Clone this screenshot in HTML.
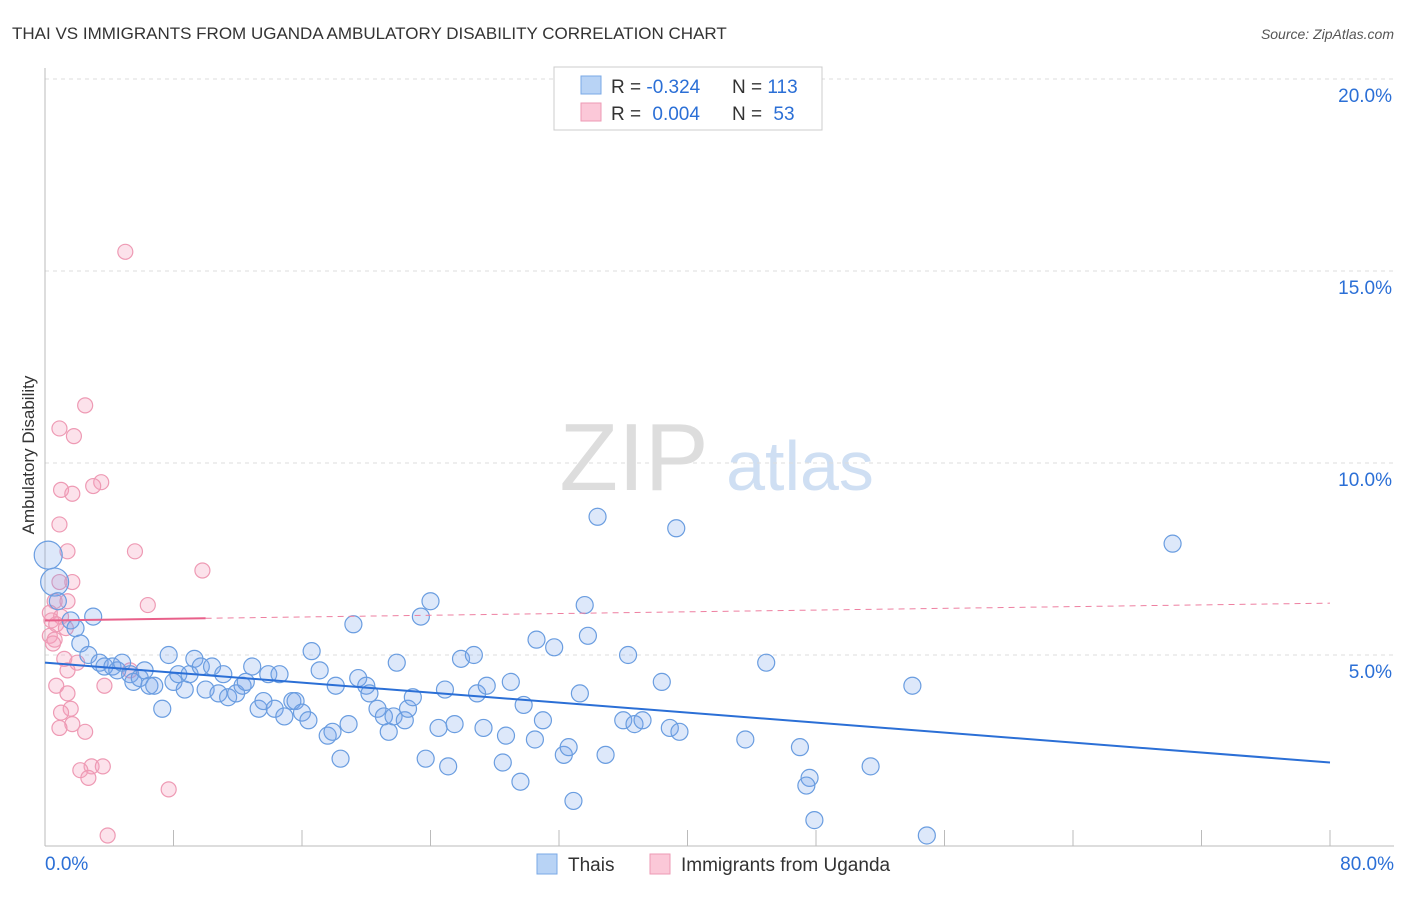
<!DOCTYPE html>
<html><head><meta charset="utf-8"><style>
body{margin:0;background:#fff;font-family:"Liberation Sans",sans-serif;}
svg text{font-family:"Liberation Sans",sans-serif;}
</style></head><body>
<svg id="chart" width="1406" height="892" xmlns="http://www.w3.org/2000/svg">
<text x="12" y="39" font-size="17" fill="#333">THAI VS IMMIGRANTS FROM UGANDA AMBULATORY DISABILITY CORRELATION CHART</text>
<text x="1394" y="39" font-size="14" fill="#555" font-style="italic" text-anchor="end">Source: ZipAtlas.com</text>
<text x="34" y="455" font-size="17" fill="#333" text-anchor="middle" transform="rotate(-90 34 455)">Ambulatory Disability</text>
<g>
<text x="634" y="490" font-size="96" fill="#ddd" font-family="Liberation Serif" text-anchor="middle">ZIP</text>
<text x="800" y="490" font-size="70" fill="#cfdff3" text-anchor="middle">atlas</text>
</g>
<g id="grid"></g><g id="axes"></g><g id="pts"></g><g id="lines"></g>
<g>
<rect x="554" y="67" width="268" height="63" fill="#fff" stroke="#ccc"/>
<rect x="581" y="76" width="20" height="18" fill="#b8d3f5" stroke="#7aa8e6"/>
<rect x="581" y="103" width="20" height="18" fill="#fbc8d8" stroke="#ee9ab4"/>
<text x="611" y="93" font-size="19" fill="#333">R = <tspan fill="#2b6fd6">-0.324</tspan></text>
<text x="732" y="93" font-size="19" fill="#333">N = <tspan fill="#2b6fd6">113</tspan></text>
<text x="611" y="120" font-size="19" fill="#333">R = <tspan fill="#2b6fd6" dx="6">0.004</tspan></text>
<text x="732" y="120" font-size="19" fill="#333">N = <tspan fill="#2b6fd6" dx="6">53</tspan></text>
</g>
<g><rect x="537" y="854" width="20" height="20" fill="#b8d3f5" stroke="#7aa8e6"/><text x="568" y="871" font-size="19" fill="#333">Thais</text></g>
<g><rect x="650" y="854" width="20" height="20" fill="#fbc8d8" stroke="#ee9ab4"/><text x="681" y="871" font-size="19" fill="#333">Immigrants from Uganda</text></g>
</svg>
<script>
const yTicks=[5,10,15,20];
const xTickLabels=["0.0%","80.0%"];
const blueX=[0.2,0.6,0.8,3.0,1.6,1.9,2.2,2.7,3.4,3.7,4.2,4.5,4.8,5.3,5.5,5.9,6.2,6.5,6.8,7.3,7.7,8.0,8.3,8.7,9.0,9.3,9.7,10.0,10.4,10.8,11.1,11.4,11.9,12.3,12.5,12.9,13.3,13.6,13.9,14.3,14.6,14.9,15.4,15.6,16.0,16.4,16.6,17.1,17.6,17.9,18.1,18.4,18.9,19.2,19.5,20.0,20.2,20.7,21.1,21.4,21.7,21.9,22.4,22.6,22.9,23.4,23.7,24.0,24.5,24.9,25.1,25.5,25.9,26.7,26.9,27.3,27.5,28.5,28.7,29.0,29.6,29.8,30.5,30.6,31.0,31.7,32.3,32.6,32.9,33.3,33.6,33.8,34.4,34.9,36.0,36.3,36.7,37.2,38.4,38.9,39.3,39.5,43.6,44.9,47.0,47.6,47.4,47.9,51.4,54.0,54.9,70.2];
const blueY=[7.6,6.9,6.4,6.0,5.9,5.7,5.3,5.0,4.8,4.7,4.7,4.6,4.8,4.5,4.3,4.4,4.6,4.2,4.2,3.6,5.0,4.3,4.5,4.1,4.5,4.9,4.7,4.1,4.7,4.0,4.5,3.9,4.0,4.2,4.3,4.7,3.6,3.8,4.5,3.6,4.5,3.4,3.8,3.8,3.5,3.3,5.1,4.6,2.9,3.0,4.2,2.3,3.2,5.8,4.4,4.2,4.0,3.6,3.4,3.0,3.4,4.8,3.3,3.6,3.9,6.0,2.3,6.4,3.1,4.1,2.1,3.2,4.9,5.0,4.0,3.1,4.2,2.2,2.9,4.3,1.7,3.7,2.8,5.4,3.3,5.2,2.4,2.6,1.2,4.0,6.3,5.5,8.6,2.4,3.3,5.0,3.2,3.3,4.3,3.1,8.3,3.0,2.8,4.8,2.6,1.8,1.6,0.7,2.1,4.2,0.3,7.9];
const pinkX=[5.0,2.5,0.9,1.8,3.5,1.0,1.7,3.0,0.9,1.4,5.6,9.8,1.7,0.9,0.6,1.4,6.4,0.3,1.0,0.4,0.7,1.3,0.3,0.6,0.5,1.2,2.0,5.3,1.4,0.7,1.4,3.7,1.6,1.0,1.7,0.9,2.5,2.9,3.6,2.2,2.7,7.7,3.9];
const pinkY=[15.5,11.5,10.9,10.7,9.5,9.3,9.2,9.4,8.4,7.7,7.7,7.2,6.9,6.9,6.4,6.4,6.3,6.1,6.0,5.9,5.8,5.7,5.5,5.4,5.3,4.9,4.8,4.6,4.6,4.2,4.0,4.2,3.6,3.5,3.2,3.1,3.0,2.1,2.1,2.0,1.8,1.5,0.3];
const blueFit=[4.8,2.2];
const pinkFit=[5.9,6.35];
const NS="http://www.w3.org/2000/svg";
const sx=v=>45+v*1285/80, sy=v=>847-v*38.4;
function mk(p,t,a){const e=document.createElementNS(NS,t);for(const k in a)e.setAttribute(k,a[k]);document.getElementById(p).appendChild(e);return e;}
yTicks.forEach(t=>{
 const l=mk('grid','line',{x1:45,x2:1394,y1:sy(t),y2:sy(t),stroke:'#ddd','stroke-dasharray':'4,4'});
 
 
 const tx=mk('grid','text',{x:1392,y:sy(t)+23,'font-size':19,fill:'#2b6fd6','text-anchor':'end'});
 tx.textContent=t.toFixed(1)+'%';
 
 
});
const ax=mk('axes','line',{x1:45,x2:45,y1:68,y2:846,stroke:'#bbb'});


const bx=mk('axes','line',{x1:45,x2:1394,y1:846,y2:846,stroke:'#bbb'});


for(let i=0;i<=10;i++){const t=mk('axes','line',{x1:sx(i*8),x2:sx(i*8),y1:830,y2:846,stroke:'#bbb'});
 
 }
[[0,'start',45],[80,'end',1394]].forEach((d,i)=>{const t=mk('axes','text',{x:d[2],y:870,'font-size':19,fill:'#2b6fd6','text-anchor':d[1]});t.textContent=xTickLabels[i];
 
 });
pinkX.forEach((x,i)=>{const c=mk('pts','circle',{cx:sx(x),cy:sy(pinkY[i]),r:7.5,fill:'rgba(246,160,190,0.3)',stroke:'#ee9ab4','stroke-width':1.2});
 
 });
blueX.forEach((x,i)=>{const c=mk('pts','circle',{cx:sx(x),cy:sy(blueY[i]),r:i<2?14:8.5,fill:'rgba(120,165,235,0.25)',stroke:'#6a9de0','stroke-width':1.2});
 
 });
const bl=mk('lines','line',{x1:sx(0),y1:sy(blueFit[0]),x2:sx(80),y2:sy(blueFit[1]),stroke:'#2b6fd6','stroke-width':2});


const pAt=x=>pinkFit[0]+(pinkFit[1]-pinkFit[0])*x/80;
const pd=mk('lines','line',{x1:sx(10),y1:sy(pAt(10)),x2:sx(80),y2:sy(pinkFit[1]),stroke:'#ee7fa0','stroke-width':1,'stroke-dasharray':'6,5'});


const ps=mk('lines','line',{x1:sx(0),y1:sy(pinkFit[0]),x2:sx(10),y2:sy(pAt(10)),stroke:'#e8608a','stroke-width':2});


</script>
</body></html>
